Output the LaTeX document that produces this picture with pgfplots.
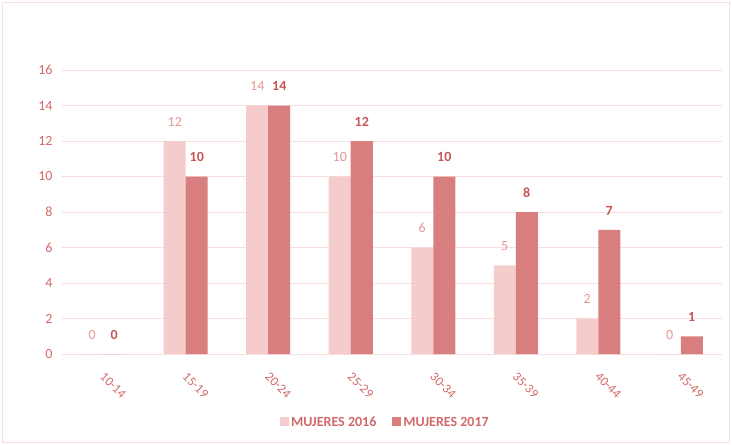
\documentclass[border=0pt]{standalone}
\usepackage{pgfplots}
\pgfplotsset{compat=1.18}
\usepackage{fontspec}
\setmainfont{Carlito}
\definecolor{cA}{RGB}{244,204,204}
\definecolor{cB}{RGB}{217,126,126}
\definecolor{ctxt}{RGB}{210,105,105}
\definecolor{clA}{RGB}{228,150,150}
\definecolor{clB}{RGB}{200,85,85}
\definecolor{cgrid}{RGB}{248,222,222}
\begin{document}
\begin{tikzpicture}[x=1pt,y=1pt]
\path[use as bounding box] (-62,-91) rectangle (670,354);
\draw[cgrid, line width=1pt] (-59,-88) rectangle (667,351);
\begin{axis}[
  at={(0,0)}, anchor=south west,
  scale only axis, width=660pt, height=284pt,
  ybar=0pt, bar width=22pt,
  xmin=-0.5, xmax=7.5, ymin=0, ymax=16,
  xtick={0,...,7},
  xticklabels={10-14,15-19,20-24,25-29,30-34,35-39,40-44,45-49},
  ytick={0,2,...,16},
  axis line style={draw=none},
  major tick style={draw=none},
  ymajorgrids, major grid style={cgrid, line width=0.8pt},
  tick label style={font=\fontsize{14}{16}\selectfont, text=ctxt},
  /pgf/number format/assume math mode=true,
  xticklabel style={rotate=-45, anchor=center, inner sep=1pt, yshift=-12pt, xshift=26pt, font=\fontsize{13}{15}\selectfont},
  yticklabel style={xshift=-6pt},
  nodes near coords,
  legend style={at={(axis description cs:0.49,-0.24)}, anchor=center, draw=none, fill=none,
    legend columns=2, font=\bfseries\fontsize{14}{16}\selectfont, text=ctxt,
    /tikz/every even column/.append style={column sep=14pt}},
  legend image code/.code={\fill[#1] (0pt,-4pt) rectangle (9pt,5pt);},
]
\addplot[fill=cA, draw=none, nodes near coords style={font=\fontsize{14}{16}\selectfont, text=clA, yshift=11pt}]
  coordinates {(0,0) (1,12) (2,14) (3,10) (4,6) (5,5) (6,2) (7,0)};
\addplot[fill=cB, draw=none, nodes near coords style={font=\bfseries\fontsize{14}{16}\selectfont, text=clB, yshift=11pt}]
  coordinates {(0,0) (1,10) (2,14) (3,12) (4,10) (5,8) (6,7) (7,1)};
\legend{MUJERES 2016, MUJERES 2017}
\end{axis}
\end{tikzpicture}
\end{document}
